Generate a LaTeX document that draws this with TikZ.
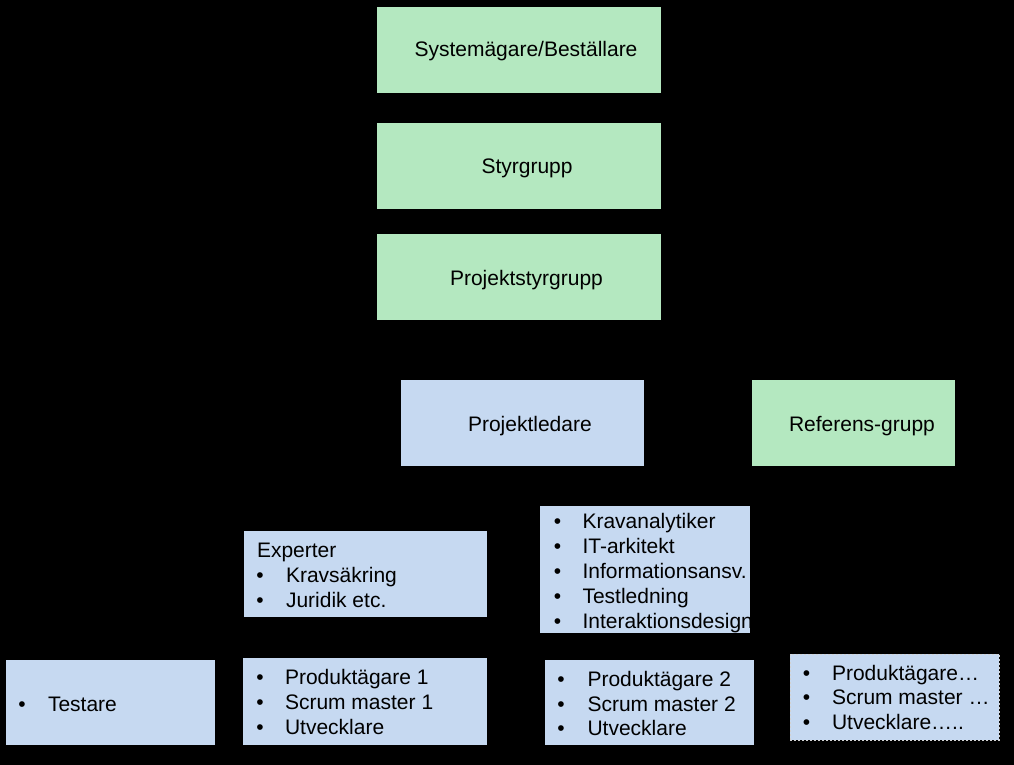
\documentclass[tikz,border=0pt]{standalone}
\usepackage{fontspec}
\setmainfont{Liberation Sans}
\definecolor{boxgreen}{HTML}{B4E8C0}
\definecolor{boxblue}{HTML}{C6D9F1}
\newcommand\bitem[5]{%
  \node[lbl, anchor=base] (#1b) at (#2,#4) {•};
  \node[lbl, anchor=base west] (#1t) at (#3,#4) {#5};}
\begin{document}
\begin{tikzpicture}[x=1pt,y=-1pt,
  font=\fontsize{21}{25}\selectfont,
  box/.style={draw=none, inner sep=0pt, outer sep=0pt, anchor=north west},
  greenbox/.style={box, fill=boxgreen},
  bluebox/.style={box, fill=boxblue},
  openbox/.style={box, fill=boxblue, draw=white!65!gray, line width=1pt, dash pattern=on 2pt off 2pt},
  lbl/.style={inner sep=0pt, outer sep=0pt, text=black}]
\fill[black] (0,0) rectangle (1014,765);
\useasboundingbox (0,0) rectangle (1014,765);

% top column
\node[greenbox, minimum width=284pt, minimum height=86pt] (sys) at (377,7) {};
\node[lbl, anchor=base west] (sysT) at (414.5,57) {Systemägare/Beställare};
\node[greenbox, minimum width=284pt, minimum height=86pt] (sty) at (377,123) {};
\node[lbl, anchor=base west] (styT) at (481.5,173) {Styrgrupp};
\node[greenbox, minimum width=284pt, minimum height=86pt] (pst) at (377,234) {};
\node[lbl, anchor=base west] (pstT) at (450,285) {Projektstyrgrupp};

% middle row
\node[bluebox, minimum width=243pt, minimum height=86pt] (pl) at (401,380) {};
\node[lbl, anchor=base west] (plT) at (468,431) {Projektledare};
\node[greenbox, minimum width=203pt, minimum height=86pt] (ref) at (752,380) {};
\node[lbl, anchor=base west] (refT) at (789,431) {Referens-grupp};

% experts
\node[bluebox, minimum width=243pt, minimum height=86pt] (exp) at (244,531) {};
\node[lbl, anchor=base west] (expT) at (257,557) {Experter};
\bitem{ex1}{260}{286}{582}{Kravsäkring}
\bitem{ex2}{260}{286}{607}{Juridik etc.}

% roles
\node[bluebox, minimum width=210pt, minimum height=127pt] (rol) at (540,506) {};
\bitem{r1}{557.5}{582.5}{528}{Kravanalytiker}
\bitem{r2}{557.5}{582.5}{553}{IT-arkitekt}
\bitem{r3}{557.5}{582.5}{578}{Informationsansv.}
\bitem{r4}{557.5}{582.5}{603}{Testledning}
\bitem{r5}{557.5}{582.5}{628}{Interaktionsdesign}

% bottom row
\node[bluebox, minimum width=209pt, minimum height=85pt] (tst) at (6,660) {};
\bitem{t1}{22}{48}{711}{Testare}

\node[bluebox, minimum width=244pt, minimum height=87pt] (tm1) at (243,658) {};
\bitem{a1}{260}{285}{684}{Produktägare 1}
\bitem{a2}{260}{285}{709}{Scrum master 1}
\bitem{a3}{260}{285}{734}{Utvecklare}

\node[bluebox, minimum width=209pt, minimum height=85pt] (tm2) at (545,660) {};
\bitem{c1}{561}{587.5}{686}{Produktägare 2}
\bitem{c2}{561}{587.5}{711}{Scrum master 2}
\bitem{c3}{561}{587.5}{735}{Utvecklare}

\node[openbox, minimum width=209pt, minimum height=86pt] (tm3) at (790,654) {};
\bitem{d1}{806.5}{832}{680}{Produktägare…}
\bitem{d2}{806.5}{832}{704}{Scrum master …}
\bitem{d3}{806.5}{832}{729}{Utvecklare…..}
\end{tikzpicture}
\end{document}
